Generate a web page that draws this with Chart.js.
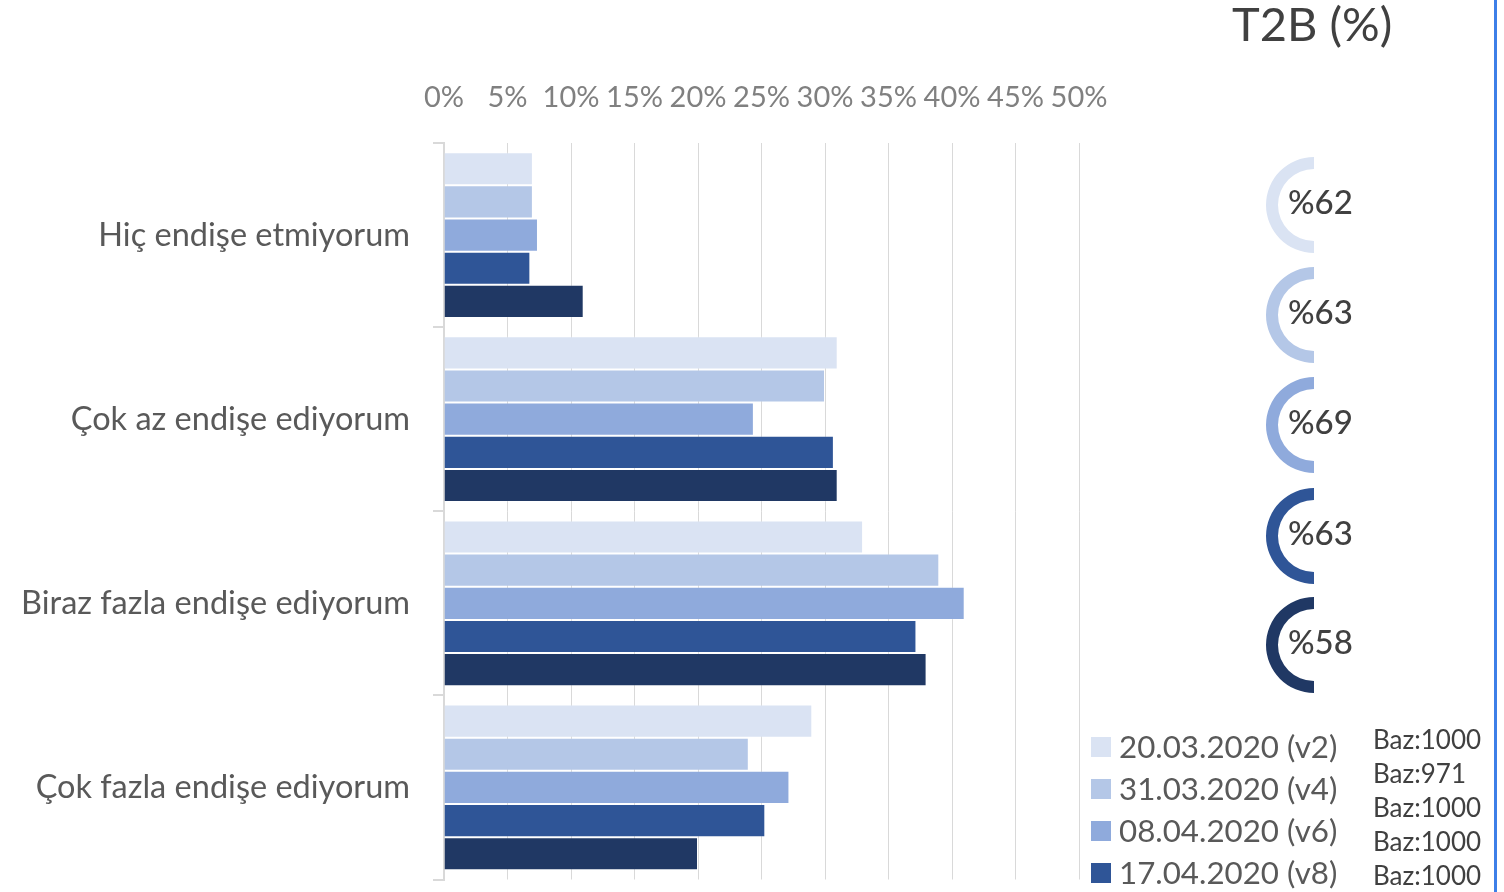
<!DOCTYPE html>
<html>
<head>
<meta charset="utf-8">
<script src="https://cdn.jsdelivr.net/npm/chart.js@4/dist/chart.umd.min.js"></script>
<style>
  html, body { margin: 0; padding: 0; background: #fff; overflow: hidden; }
  #wrap { position: relative; width: 1504px; height: 892px; overflow: hidden; }
  #main { position: absolute; left: 0; top: 0; }
  .arc { position: absolute; }
  #edge { position: absolute; left: 1494px; top: 0; width: 3px; height: 892px; background: #3d7fe8; }
</style>
</head>
<body>
<div id="wrap">
  <!-- canvas runs past the bottom edge: the last category is cut off like in the source slide -->
  <canvas id="main" width="1504" height="922"></canvas>
  <div id="edge"></div>
</div>
<script>
/* Worry level by survey wave — horizontal bars + T2B arcs */

const categories = [
  'Hiç endişe etmiyorum',
  'Çok az endişe ediyorum',
  'Biraz fazla endişe ediyorum',
  'Çok fazla endişe ediyorum'
];
const waveLabels = ['20.03.2020 (v2)', '31.03.2020 (v4)', '08.04.2020 (v6)', '17.04.2020 (v8)', '(v9)'];
const v2 = [7, 31, 33, 29];
const v4 = [7, 30, 39, 24];
const v6 = [7.4, 24.4, 41, 27.2];
const v8 = [6.8, 30.7, 37.2, 25.3];
const v9 = [11, 31, 38, 20];
const xTicks = [0, 5, 10, 15, 20, 25, 30, 35, 40, 45, 50];
const t2b = [62, 63, 69, 63, 58];
const baz = [1000, 971, 1000, 1000, 1000];

const WAVE_COLORS = ['#DAE3F3', '#B4C7E7', '#8FAADC', '#2F5597', '#203864'];
const FONT = 'Lato, "Noto Sans", sans-serif';
const series = [v2, v4, v6, v8, v9];

// layout of the right-hand panel
const ARC_X = 1314;
const ARC_R = 48;
const ARC_Y = [205, 315, 425, 536, 645];

const sidePanel = {
  id: 'sidePanel',
  afterDraw(chart) {
    const ctx = chart.ctx;
    ctx.save();

    // T2B title
    ctx.fillStyle = '#404040';
    ctx.font = '47px ' + FONT;
    ctx.textAlign = 'left';
    ctx.textBaseline = 'alphabetic';
    ctx.fillText('T2B (%)', 1232, 41);

    // T2B values inside arcs
    ctx.font = '500 33px ' + FONT;
    ctx.textBaseline = 'middle';
    t2b.forEach((v, i) => ctx.fillText('%' + v, 1288, ARC_Y[i] - 2));

    // legend
    ctx.font = '31.3px ' + FONT;
    waveLabels.forEach((lbl, i) => {
      const y = 747 + i * 42;
      ctx.fillStyle = WAVE_COLORS[i];
      ctx.fillRect(1091, y - 10, 20, 20);
      ctx.fillStyle = '#595959';
      ctx.fillText(lbl, 1119, y + 1);
    });

    // sample sizes
    ctx.font = '26px ' + FONT;
    ctx.fillStyle = '#404040';
    baz.forEach((b, i) => ctx.fillText('Baz:' + b, 1373, 741 + i * 33.8));

    ctx.restore();
  }
};

new Chart(document.getElementById('main'), {
  type: 'bar',
  data: {
    labels: categories,
    datasets: series.map((data, i) => ({
      label: waveLabels[i],
      data,
      backgroundColor: WAVE_COLORS[i],
      borderColor: 'rgba(255,255,255,0.2)',
      borderWidth: 1,
      categoryPercentage: 0.9,
      barPercentage: 1
    }))
  },
  options: {
    indexAxis: 'y',
    responsive: false,
    animation: false,
    events: [],
    layout: { padding: { left: 0, right: 425, top: 0, bottom: 0 } },
    plugins: {
      legend: { display: false },
      tooltip: { enabled: false }
    },
    scales: {
      x: {
        position: 'top',
        min: xTicks[0],
        max: xTicks[xTicks.length - 1],
        afterBuildTicks: s => { s.ticks = xTicks.map(v => ({ value: v })); },
        afterFit: s => { s.height = 143; },
        ticks: {
          callback: v => v + '%',
          autoSkip: false,
          maxRotation: 0,
          color: '#808080',
          font: { family: FONT, size: 29 },
          padding: 28
        },
        grid: { color: '#d9d9d9', drawTicks: false },
        border: { display: false }
      },
      y: {
        afterFit: s => { s.width = 444; },
        ticks: {
          color: '#595959',
          font: { family: FONT, size: 32.5 },
          padding: 23
        },
        grid: { drawOnChartArea: false, tickLength: 11, color: '#d9d9d9', lineWidth: 2 },
        border: { color: '#d9d9d9', width: 2 }
      }
    }
  },
  plugins: [sidePanel]
});

// half-ring markers next to each wave's T2B value
const wrap = document.getElementById('wrap');
t2b.forEach((v, i) => {
  const c = document.createElement('canvas');
  c.className = 'arc';
  c.width = ARC_R;
  c.height = ARC_R * 2;
  c.style.left = (ARC_X - ARC_R) + 'px';
  c.style.top = (ARC_Y[i] - ARC_R) + 'px';
  wrap.appendChild(c);
  new Chart(c, {
    type: 'doughnut',
    data: { datasets: [{ data: [v], backgroundColor: WAVE_COLORS[i], borderWidth: 0 }] },
    options: {
      responsive: false,
      animation: false,
      events: [],
      rotation: 180,
      circumference: 180,
      cutout: '75%',
      plugins: { legend: { display: false }, tooltip: { enabled: false } }
    }
  });
});
</script>
</body>
</html>
